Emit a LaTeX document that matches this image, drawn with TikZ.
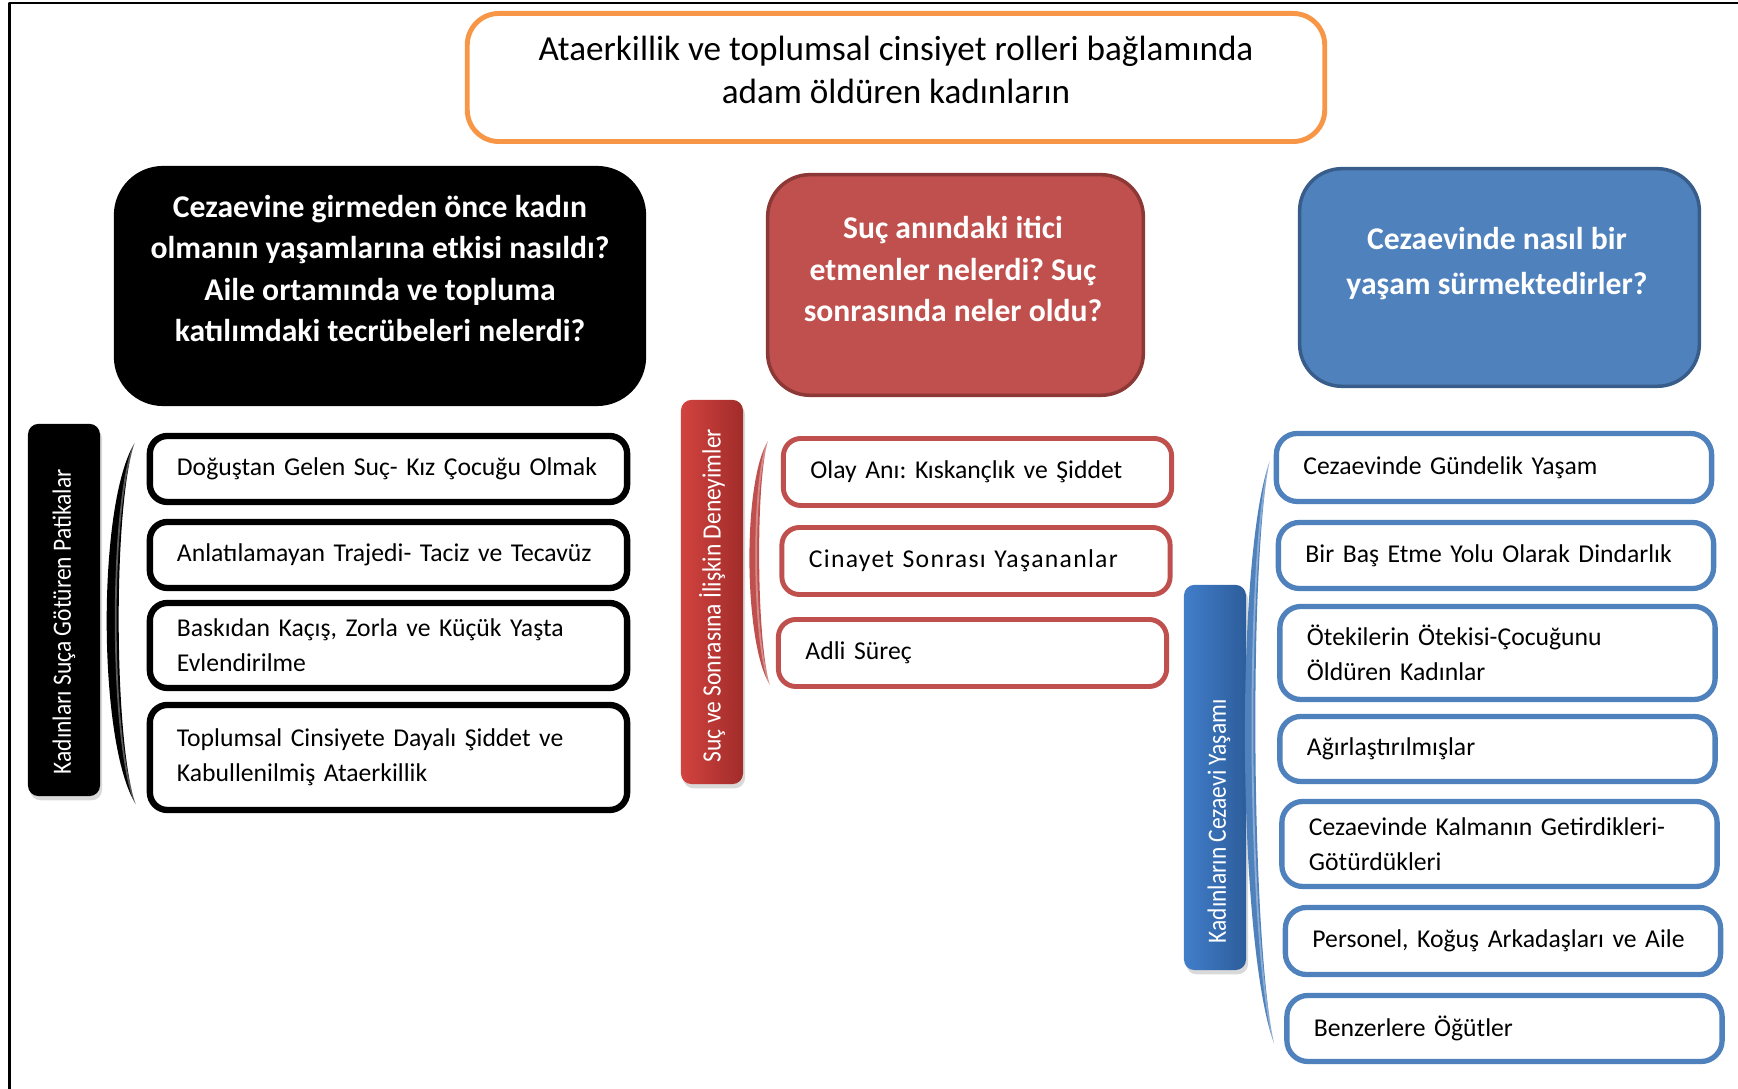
\documentclass[tikz,border=0pt]{standalone}
\usepackage{fontspec}
\setmainfont{Carlito}
\usepackage{graphicx}
\usetikzlibrary{calc,shadows}
\definecolor{titleorange}{HTML}{F79646}
\definecolor{qred}{HTML}{C0504D}
\definecolor{qreddark}{HTML}{8C3836}
\definecolor{qblue}{HTML}{4F81BD}
\definecolor{qbluedark}{HTML}{385D8A}
\definecolor{sidered}{HTML}{D2433F}
\definecolor{sidereddark}{HTML}{A12C2A}
\definecolor{sideblue}{HTML}{417ECA}
\definecolor{sidebluedark}{HTML}{2D5D9B}
\frenchspacing
\newcommand*\squeezed[1]{\scalebox{0.89}[1]{#1}}
\newcommand*\drawbracket[5][]{%
    % #2/#3: top/bottom tip
    % #4/#5: outer/inner bend to the left
    \fill[#1] (#2) .. controls ($(#2)!0.17!(#3)+(-#4,0)$) and ($(#2)!0.83!(#3)+(-#4,0)$) .. (#3)
        .. controls ($(#2)!0.83!(#3)+(-#5,0)$) and ($(#2)!0.17!(#3)+(-#5,0)$) .. (#2) -- cycle;
    \draw[white,opacity=0.35,line width=0.5pt] (#2) .. controls ($(#2)!0.17!(#3)+(-#5-4,0)$) and ($(#2)!0.83!(#3)+(-#5-4,0)$) .. (#3);
}

\begin{document}
\begin{tikzpicture}[x=0.01cm,y=-0.01cm,line join=round,
    itembox/.style={draw,fill=white,rounded corners=5pt,inner sep=0pt,align=left,text width=#1,
        execute at begin node={\leftskip=7.7pt\relax},font=\fontsize{7.3}{10}\selectfont},
    qbox/.style={rounded corners=14pt,inner sep=0pt},
    qtext/.style={text=white,align=center,font=\bfseries\fontsize{9}{11.7}\selectfont},
    sidebox/.style={rounded corners=3pt,inner sep=0pt,drop shadow={shadow xshift=0.6pt,shadow yshift=-1.2pt,opacity=0.3}},
    sidetext/.style={rotate=90,anchor=west,inner sep=0pt,text=white,font=\fontsize{7.5}{9}\selectfont}]
    \useasboundingbox (0,0) rectangle (1738,1089);
    \draw[line width=0.6pt] (9.5,1089) -- (9.5,3) -- (1738,3);

    % title
    \node[draw=titleorange,line width=1.4pt,rounded corners=9pt,minimum width=8.57cm,minimum height=1.28cm] (title) at (896,77.5) {};
    \node[align=center,font=\fontsize{10}{12}\selectfont] (title-txt) at ($(title.center)+(0,-7.5)$) {Ataerkillik ve toplumsal cinsiyet rolleri bağlamında\\adam öldüren kadınların};

    % questions
    \node[qbox,fill=black,minimum width=5.32cm,minimum height=2.40cm] (q-black) at (380,286) {};
    \node[qtext] (q-black-txt) at ($(q-black.center)+(0,-17.5)$) {Cezaevine girmeden önce kadın\\olmanın yaşamlarına etkisi nasıldı?\\Aile ortamında ve topluma\\katılımdaki tecrübeleri nelerdi?};
    \node[qbox,rounded corners=12pt,fill=qred,draw=qreddark,line width=1pt,minimum width=3.755cm,minimum height=2.205cm] (q-red) at (955.5,285) {};
    \node[qtext] (q-red-txt) at ($(q-red.center)+(-2.5,-16)$) {Suç anındaki itici\\etmenler nelerdi? Suç\\sonrasında neler oldu?};
    \node[qbox,rounded corners=12pt,fill=qblue,draw=qbluedark,line width=1pt,minimum width=3.995cm,minimum height=2.175cm] (q-blue) at (1499.5,277.5) {};
    \node[qtext,font=\bfseries\fontsize{9}{12.8}\selectfont] (q-blue-txt) at ($(q-blue.center)+(-2.5,-14)$) {Cezaevinde nasıl bir\\yaşam sürmektedirler?};

    % side labels
    \node[sidebox,fill=black,minimum width=0.72cm,minimum height=3.72cm] (side-black) at (64,610) {};
    \node[sidetext] at ($(side-black.south)+(0,-22)$) {\squeezed{Kadınları Suça Götüren Patikalar}};
    \node[sidebox,left color=sidered,right color=sidereddark,minimum width=0.62cm,minimum height=3.84cm] (side-red) at (712,592) {};
    \node[sidetext] at ($(side-red.south)+(0,-22)$) {\squeezed{Suç ve Sonrasına İlişkin Deneyimler}};
    \node[sidebox,left color=sideblue,right color=sidebluedark,minimum width=0.62cm,minimum height=3.85cm] (side-blue) at (1215,777.5) {};
    \node[sidetext] at ($(side-blue.south)+(4,-27)$) {\squeezed{Kadınların Cezaevi Yaşamı}};

    % items
    \foreach \n/\y/\h/\txt in {1/469/.66/{Doğuştan Gelen Suç- Kız Çocuğu Olmak},
        2/555/.66/{Anlatılamayan Trajedi- Taciz ve Tecavüz},
        3/645.5/.85/{Baskıdan Kaçış, Zorla ve Küçük Yaşta\\Evlendirilme},
        4/757.5/1.05/{Toplumsal Cinsiyete Dayalı Şiddet ve\\Kabullenilmiş Ataerkillik}}
        \node[itembox=4.77cm,line width=1.8pt,minimum height=\h cm] (bk-\n) at (388.5,\y) {\txt};
    \foreach \n/\x/\y/\txt in {1/977.5/472/{Olay Anı: Kıskançlık ve Şiddet},
        2/976/561/{\addfontfeature{LetterSpace=5}Cinayet Sonrası Yaşananlar},
        3/972.5/653/{Adli Süreç}}
        \node[itembox=3.88cm,draw=qred,line width=1.4pt,minimum height=.67cm] (rd-\n) at (\x,\y) {\txt};
    \foreach \n/\x/\y/\h/\txt in {1/1494/467.5/.68/{Cezaevinde Gündelik Yaşam},
        2/1496/555.5/.66/{Bir Baş Etme Yolu Olarak Dindarlık},
        3/1497.5/653/.93/{Ötekilerin Ötekisi-Çocuğunu\\Öldüren Kadınlar},
        4/1497.5/749/.65/{Ağırlaştırılmışlar},
        5/1499.5/844/.85/{Cezaevinde Kalmanın Getirdikleri-\\Götürdükleri},
        6/1503/941/.67/{Personel, Koğuş Arkadaşları ve Aile},
        7/1504.5/1028.5/.66/{Benzerlere Öğütler}}
        \node[itembox=4.35cm,draw=qblue,line width=1.5pt,rounded corners=6pt,minimum height=\h cm] (bl-\n) at (\x,\y) {\txt};

    % brackets
    \coordinate (bk-top) at ($(bk-1.north west)+(-12,10)$);
    \coordinate (bk-bot) at ($(bk-4.south west)+(-11,-9)$);
    \drawbracket[black]{bk-top}{bk-bot}{38}{22}
    \coordinate (rd-top) at ($(rd-1.north west)+(-13,5)$);
    \coordinate (rd-bot) at ($(rd-3.south west)+(-6,-4)$);
    \drawbracket[qred]{rd-top}{rd-bot}{26}{13}
    \coordinate (bl-top) at ($(bl-1.north west)+(-4,30)$);
    \coordinate (bl-bot) at ($(bl-7.south west)+(-10,-20)$);
    \drawbracket[qblue]{bl-top}{bl-bot}{36}{22}
\end{tikzpicture}
\end{document}
